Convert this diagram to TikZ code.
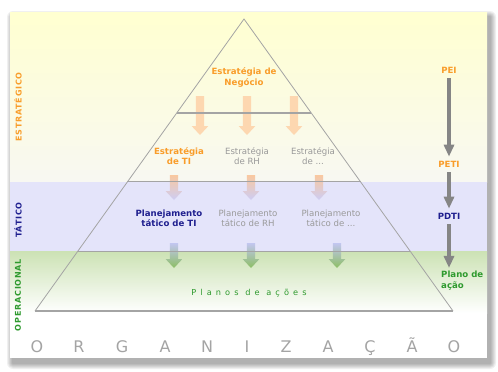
\documentclass[tikz,border=0pt]{standalone}
\usepackage{fontspec}
\setmainfont{DejaVu Sans}
\newfontfamily\wideletters[LetterSpace=50]{DejaVu Sans}
\newfontfamily\sideletters[LetterSpace=10]{DejaVu Sans}
\usetikzlibrary{arrows.meta,calc}

\definecolor{laranja}{HTML}{F99D2A}
\definecolor{marinho}{HTML}{1F1F8F}
\definecolor{verde}{HTML}{2E9A2E}
\definecolor{cinzatxt}{HTML}{9A9A9A}
\definecolor{amareloA}{HTML}{FFFFD0}
\definecolor{amareloB}{HTML}{F8F8F2}
\definecolor{lilas}{HTML}{E4E4FA}
\definecolor{verdeA}{HTML}{CCE2B4}
\definecolor{pessego}{HTML}{FDD7B0}
\definecolor{pessegoB}{HTML}{F9C8A0}
\definecolor{lilasB}{HTML}{CDCDF4}
\definecolor{lilasC}{HTML}{C2C6F0}
\definecolor{verdeB}{HTML}{8CBE64}
\definecolor{cinzaseta}{HTML}{858585}
\definecolor{cinzalinha}{HTML}{A4A4A4}

\tikzset{
  txt/.style={font=\fontsize{8.6}{10.5}\selectfont, align=center, inner sep=1pt},
  laranjatxt/.style={txt, text=laranja, font=\fontsize{8.6}{10.5}\selectfont\bfseries},
  marinhotxt/.style={txt, text=marinho, font=\fontsize{8.6}{10.5}\selectfont\bfseries},
  verdetxt/.style={txt, text=verde, font=\fontsize{8.6}{10.5}\selectfont\bfseries},
  cinzatxt/.style={txt, text=cinzatxt},
  lado/.style={rotate=90, inner sep=1pt, font=\sideletters\fontsize{8}{9}\selectfont\bfseries},
  letra/.style={text=cinzatxt!90, font=\fontsize{16}{18}\selectfont, inner sep=0pt, anchor=base},
  setacinza/.style={draw=cinzaseta, line width=4pt, -{Triangle[width=10pt,length=12pt]}},
  linhaH/.style={draw=cinzalinha, line width=1.1pt}
}

% seta larga com degrade: x, y do topo, y da ponta, estilo
\newcommand{\setalarga}[4]{%
  \shade[#4] ({#1-4.2},#2) -- ({#1+4.2},#2) -- ({#1+4.2},{#3-9}) -- ({#1+8.4},{#3-9})
    -- (#1,#3) -- ({#1-8.4},{#3-9}) -- ({#1-4.2},{#3-9}) -- cycle;}

\begin{document}
\begin{tikzpicture}[x=1pt, y=-1pt]
\useasboundingbox (0,0) rectangle (498,372);

% sombra do cartao
\foreach \i in {1,...,6}
  \fill[black, opacity=0.06, rounded corners=\i pt] ({13-\i},{17-\i}) rectangle ({490+\i},{363+\i});
\fill[white] (10,12) rectangle (487,358);

% faixas
\shade[top color=amareloA, bottom color=amareloB] (10,12) rectangle (487,182);
\fill[lilas] (10,182) rectangle (487,251);
\shade[top color=verdeA, bottom color=white] (10,251) rectangle (487,313);

% piramide
\coordinate (topo) at (244,19);
\coordinate (baseE) at (35,311);
\coordinate (baseD) at (453,311);

% setas largas
\setalarga{200}{96}{135}{top color=pessego, bottom color=pessego}
\setalarga{247}{96}{135}{top color=pessego, bottom color=pessego}
\setalarga{294}{96}{135}{top color=pessego, bottom color=pessego}
\setalarga{174}{175}{200}{top color=pessegoB, bottom color=lilasB}
\setalarga{251}{175}{200}{top color=pessegoB, bottom color=lilasB}
\setalarga{319}{175}{200}{top color=pessegoB, bottom color=lilasB}
\setalarga{174}{243}{268}{top color=lilasC, bottom color=verdeB}
\setalarga{251}{243}{268}{top color=lilasC, bottom color=verdeB}
\setalarga{337}{243}{268}{top color=lilasC, bottom color=verdeB}

\draw[cinzalinha, line width=0.8pt] (baseE) -- (topo) -- (baseD);
\draw[linhaH] (baseE) -- (baseD);
\draw[linhaH] ($(topo)!0.322!(baseE)$) -- ($(topo)!0.322!(baseD)$);
\draw[linhaH] ($(topo)!0.558!(baseE)$) -- ($(topo)!0.558!(baseD)$);
\draw[linhaH] ($(topo)!0.795!(baseE)$) -- ($(topo)!0.795!(baseD)$);

% textos da piramide
\node[laranjatxt] (negocio) at (244,77.5) {Estratégia de\\Negócio};
\node[laranjatxt] (estTI) at (179,156) {Estratégia\\de TI};
\node[cinzatxt] (estRH) at (247,156) {Estratégia\\de RH};
\node[cinzatxt] (estOutra) at (313,156) {Estratégia\\de ...};
\node[marinhotxt] (planTI) at (169,218.5) {Planejamento\\tático de TI};
\node[cinzatxt] (planRH) at (248,218.5) {Planejamento\\tático de RH};
\node[cinzatxt] (planOutro) at (331,218.5) {Planejamento\\tático de ...};
\node[txt, text=verde, font=\wideletters\fontsize{8.2}{10}\selectfont] (planos) at (249,293) {Planos de ações};

% niveis
\node[lado, text=laranja] (estrategico) at (18,107) {ESTRATÉGICO};
\node[lado, text=marinho] (tatico) at (18,220) {TÁTICO};
\node[lado, text=verde] (operacional) at (18,295) {OPERACIONAL};

% planos a direita
\node[laranjatxt] (pei) at (449,70) {PEI};
\node[laranjatxt] (peti) at (449,164) {PETI};
\node[marinhotxt] (pdti) at (449,216) {PDTI};
\node[verdetxt, align=left, anchor=west] (acao) at (440,280.5) {Plano de\\ação};

\draw[setacinza, shorten <=4pt, shorten >=3pt] (pei) -- (peti);
\draw[setacinza, shorten <=4pt, shorten >=3pt] (peti) -- (pdti);
\draw[setacinza, shorten <=4pt, shorten >=2pt] (pdti) -- (pdti |- acao.north);

% organizacao
\node[letra] (org1) at (37,352) {O};
\node[letra] (org2) at (79,352) {R};
\node[letra] (org3) at (122,352) {G};
\node[letra] (org4) at (165,352) {A};
\node[letra] (org5) at (207,352) {N};
\node[letra] (org6) at (247,352) {I};
\node[letra] (org7) at (286,352) {Z};
\node[letra] (org8) at (328,352) {A};
\node[letra] (org9) at (370,352) {Ç};
\node[letra] (org10) at (412,352) {Ã};
\node[letra] (org11) at (454,352) {O};

\end{tikzpicture}
\end{document}
